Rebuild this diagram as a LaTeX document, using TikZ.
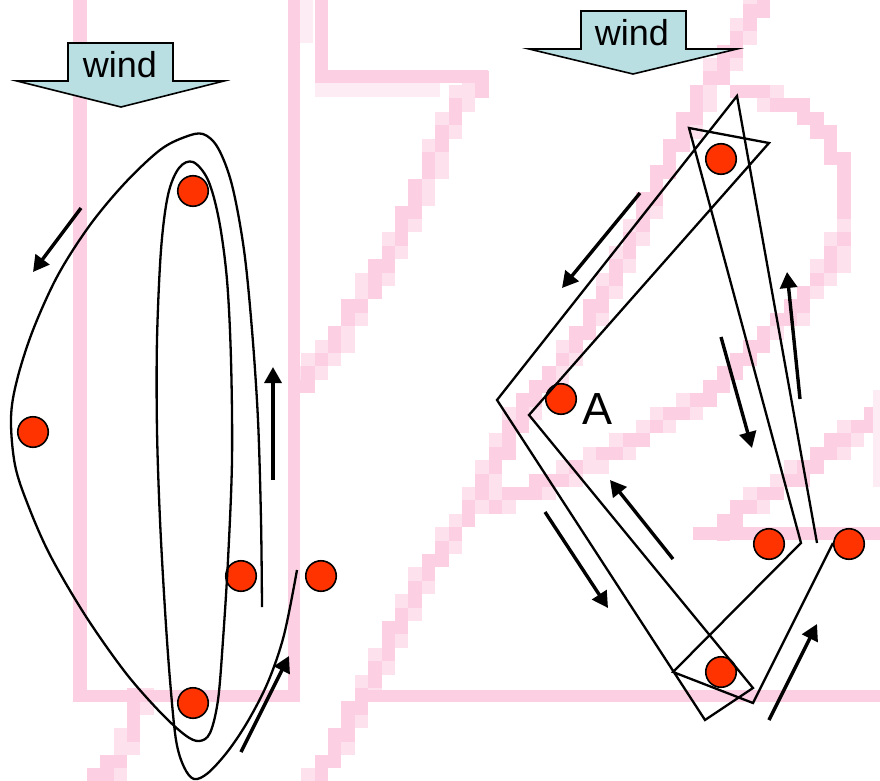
\documentclass[tikz,border=0pt]{standalone}
\usepackage{fontspec}
\setmainfont{Liberation Sans}
\usetikzlibrary{arrows.meta}
\definecolor{dotred}{RGB}{255,51,0}
\definecolor{windfill}{RGB}{185,223,227}
\definecolor{pinkline}{RGB}{252,208,226}
\definecolor{pinksoft}{RGB}{253,226,238}
\definecolor{pinkfaint}{RGB}{254,236,245}

% coarse pixel grid for the pink background strokes
\def\pxsize{13.4}
\def\pxoffx{6.3}
\def\pxoffy{4.5}
\def\pxnone{none}
% fill the grid cell holding the point (#1,#2) with colour #3
\newcommand\pixcell[3]{%
  \pgfmathsetmacro\gx{\pxsize*floor((#1-\pxoffx)/\pxsize)+\pxoffx}%
  \pgfmathsetmacro\gy{\pxsize*floor((#2-\pxoffy)/\pxsize)+\pxoffy}%
  \fill[#3] (\gx,\gy) rectangle ++(\pxsize,\pxsize);}
% one straight stroke, rasterised onto the grid: soft halo, then core
\newcommand\pixseg[4]{%
  \pgfmathsetmacro\pxdx{#3-#1}%
  \pgfmathsetmacro\pxdy{#4-#2}%
  \pgfmathtruncatemacro\pxn{max(abs(\pxdx),abs(\pxdy))/6+1}%
  \foreach \k in {0,...,\pxn}{%
    \pgfmathsetmacro\qx{#1+\pxdx*\k/\pxn}%
    \pgfmathsetmacro\qy{#2+\pxdy*\k/\pxn}%
    \pixcell{\qx-3}{\qy-3}{pinksoft}%
    \pixcell{\qx+3}{\qy-3}{pinksoft}%
    \pixcell{\qx-3}{\qy+3}{pinksoft}%
    \pixcell{\qx+3}{\qy+3}{pinksoft}%
  }%
  \foreach \k in {0,...,\pxn}{%
    \pgfmathsetmacro\qx{#1+\pxdx*\k/\pxn}%
    \pgfmathsetmacro\qy{#2+\pxdy*\k/\pxn}%
    \pixcell{\qx}{\qy}{pinkline}%
  }}
% a polyline of such strokes
\newcommand\pixpoly[1]{%
  \foreach \bx/\by [remember=\bx as \ax (initially none),
                    remember=\by as \ay (initially none)] in {#1}{%
    \ifx\ax\pxnone\else\pixseg{\ax}{\ay}{\bx}{\by}\fi}}

\begin{document}
\begin{tikzpicture}[x=1pt,y=-1pt,
  dot/.style={circle,draw=black,line width=1.6pt,fill=dotred,minimum size=30.5pt,inner sep=0pt},
  track/.style={draw=black,line width=2.3pt,line join=miter},
  motion/.style={draw=black,line width=3.4pt,-{Triangle[length=16pt,width=17pt]}},
  windarrow/.style={draw=black,line width=1.6pt,fill=windfill,line join=miter},
  windtext/.style={inner sep=0pt,anchor=base,font=\fontsize{36}{40}\selectfont},
  marktext/.style={inner sep=0pt,anchor=base,font=\fontsize{45}{50}\selectfont}
]
\useasboundingbox (0,0) rectangle (880,781);

% pink background strokes: slanted and curved runs
\pixpoly{481/80, 460/100, 445/135, 420/190, 400/230, 385/265, 360/300,
  340/337, 320/360, 297/385}
\pixpoly{140/700, 133/735, 120/757, 98/781}
\pixpoly{762/0, 740/40, 703/97, 663/170, 637/230, 610/283, 583/330,
  553/378, 530/400, 497/460, 470/510, 444/550, 423/575, 383/657,
  357/707, 317/781}
\pixpoly{740/90, 790/104, 815/120, 830/145, 843/170, 845/200, 845/235,
  835/258, 818/278, 790/317, 770/335, 745/357, 720/385, 700/400,
  670/415, 640/435, 610/455, 580/468, 550/482, 520/495, 490/505}
\pixpoly{875/415, 853/433, 820/460, 780/487, 737/513, 720/528}

% pink background strokes: straight runs
\fill[pinkfaint] (300,0) rectangle (313,43);
\fill[pinkfaint] (315,83) rectangle (440,97);
\fill[pinkfaint] (873,390) rectangle (880,487);
\fill[pinkline] (73.3,0) rectangle (86.7,702);
\fill[pinkline] (73.3,690) rectangle (300,702);
\fill[pinkline] (288.3,0) rectangle (300,702);
\fill[pinkline] (315,0) rectangle (328,83);
\fill[pinkline] (315,70) rectangle (488,83);
\fill[pinkline] (357,690) rectangle (880,702);
\fill[pinkline] (693,527) rectangle (880,540);

% wind arrows
\draw[windarrow] (68,43) -- (173,43) -- (173,81) -- (224,81) -- (121,107)
  -- (17,81) -- (68,81) -- cycle;
\node[windtext] (windL) at (120,78) {wind};
\draw[windarrow] (581,11) -- (686,11) -- (686,49) -- (737,49) -- (633,74)
  -- (529,49) -- (581,49) -- cycle;
\node[windtext] (windR) at (632,46) {wind};

% positions (left)
\node[dot] (l1) at (193,191) {};
\node[dot] (l2) at (33,432) {};
\node[dot] (l3) at (241,576) {};
\node[dot] (l4) at (321,576) {};
\node[dot] (l5) at (193,703) {};

% positions (right)
\node[dot] (r1) at (721,159) {};
\node[dot] (r2) at (561,399) {};
\node[dot] (r3) at (769,544) {};
\node[dot] (r4) at (849,544) {};
\node[dot] (r5) at (721,672) {};
\node[marktext] (labA) at (597,424) {A};

% left track: smooth spiral
\draw[track] plot[smooth,tension=0.55] coordinates {
  (262,607) (261,520) (258,420) (252,330) (244,250) (232,185) (218,148)
  (203,134) (185,137) (160,150) (125,183) (90,225) (58,275) (33,330)
  (17,380) (11,418) (15,465) (28,505) (50,555) (85,615) (125,672)
  (160,712) (185,735) (199,741) (210,733) (218,700) (223,640) (228,560)
  (232,460) (231,360) (227,280) (219,220) (208,180) (193,162) (179,168)
  (168,195) (161,250) (157,340) (157,430) (160,520) (165,610) (170,680)
  (176,740) (184,767) (194,779) (208,773) (228,751) (248,721) (268,682)
  (284,635) (297,570)};

% right track: straight legs
\coordinate (p0) at (817,543);
\coordinate (p1) at (737,96);
\coordinate (p2) at (497,400);
\coordinate (p3) at (705,720);
\coordinate (p4) at (753,688);
\coordinate (p5) at (529,415);
\coordinate (p6) at (769,143);
\coordinate (p7) at (689,128);
\coordinate (p8) at (801,543);
\coordinate (p9) at (673,672);
\coordinate (p10) at (753,703);
\coordinate (p11) at (833,543);
\draw[track] (p0) -- (p1) -- (p2) -- (p3) -- (p4) -- (p5) -- (p6) -- (p7)
  -- (p8) -- (p9) -- (p10) -- (p11);

% direction arrows (left)
\coordinate (la1s) at (81,208);  \coordinate (la1e) at (33,272);
\coordinate (la2s) at (273,480); \coordinate (la2e) at (273,367);
\coordinate (la3s) at (241,752); \coordinate (la3e) at (289,656);
\draw[motion] (la1s) -- (la1e);
\draw[motion] (la2s) -- (la2e);
\draw[motion] (la3s) -- (la3e);

% direction arrows (right)
\coordinate (ra1s) at (640,193); \coordinate (ra1e) at (562,288);
\coordinate (ra2s) at (721,337); \coordinate (ra2e) at (752,448);
\coordinate (ra3s) at (800,399); \coordinate (ra3e) at (787,272);
\coordinate (ra4s) at (673,559); \coordinate (ra4e) at (610,480);
\coordinate (ra5s) at (545,512); \coordinate (ra5e) at (608,608);
\coordinate (ra6s) at (769,720); \coordinate (ra6e) at (817,624);
\draw[motion] (ra1s) -- (ra1e);
\draw[motion] (ra2s) -- (ra2e);
\draw[motion] (ra3s) -- (ra3e);
\draw[motion] (ra4s) -- (ra4e);
\draw[motion] (ra5s) -- (ra5e);
\draw[motion] (ra6s) -- (ra6e);
\end{tikzpicture}
\end{document}
